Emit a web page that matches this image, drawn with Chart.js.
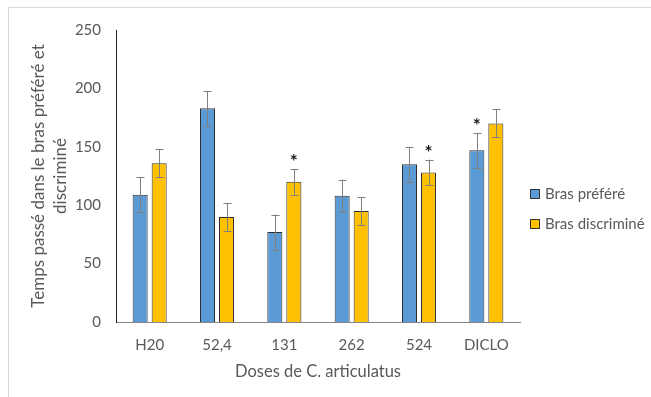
<!DOCTYPE html>
<html>
<head>
<meta charset="utf-8">
<script src="https://cdn.jsdelivr.net/npm/chart.js@4.4.1/dist/chart.umd.min.js"></script>
<style>
  html, body { margin: 0; padding: 0; background: #fff; }
  body { width: 651px; height: 397px; position: relative; overflow: hidden; font-family: Lato, sans-serif; }
  .frame { position: absolute; left: 8px; top: 7px; width: 700px; height: 450px; border-left: 1px solid #d9d9d9; border-top: 1px solid #d9d9d9; }
  #wrap { position: absolute; left: 0; top: 0; width: 651px; height: 397px; }
  .legend { position: absolute; left: 530px; top: 184px; color: #595959; font-size: 15px; }
  .legend div { height: 30px; line-height: 18px; white-space: nowrap; }
  .legend span.sw { display: inline-block; width: 8px; height: 8px; border: 1px solid #333; margin-right: 5px; vertical-align: 0px; }
</style>
</head>
<body>
<div class="frame"></div>
<div id="wrap"><canvas id="chart" width="651" height="397"></canvas></div>
<div class="legend" id="legend"></div>
<script>
const categories = ['H20', '52,4', '131', '262', '524', 'DICLO'];
const seriesNames = ['Bras préféré', 'Bras discriminé'];
const seriesColors = ['#5b9bd5', '#ffc000'];
const prefere = [109, 183, 77, 108, 135, 147];
const discrimine = [136, 90, 120, 95, 128, 170];
const prefereErr = [15, 15, 15, 14, 15, 15];
const discrimineErr = [12, 12, 11, 12, 11, 12];
// significance marks above the error bar
const prefereStar = [false, false, false, false, false, true];
const discrimineStar = [false, false, true, false, true, false];
const yTicks = [0, 50, 100, 150, 200, 250];

const errors = [prefereErr, discrimineErr];
const stars = [prefereStar, discrimineStar];

const errorBars = {
    id: 'errorBars',
    afterDatasetsDraw(chart) {
        const ctx = chart.ctx;
        const y = chart.scales.y;
        chart.data.datasets.forEach((ds, di) => {
            const meta = chart.getDatasetMeta(di);
            meta.data.forEach((bar, i) => {
                const v = ds.data[i], e = errors[di][i];
                const top = y.getPixelForValue(v + e);
                const bot = y.getPixelForValue(v - e);
                const x = Math.round(bar.x) + 0.5;
                ctx.save();
                ctx.strokeStyle = '#7f7f7f';
                ctx.lineWidth = 1;
                ctx.beginPath();
                ctx.moveTo(x, top); ctx.lineTo(x, bot);
                ctx.moveTo(x - 4, Math.round(top) + 0.5); ctx.lineTo(x + 4, Math.round(top) + 0.5);
                ctx.moveTo(x - 4, Math.round(bot) + 0.5); ctx.lineTo(x + 4, Math.round(bot) + 0.5);
                ctx.stroke();
                if (stars[di][i]) {
                    ctx.fillStyle = '#1a1a1a';
                    ctx.font = 'bold 19px Lato';
                    ctx.textAlign = 'center';
                    ctx.textBaseline = 'alphabetic';
                    ctx.fillText('*', bar.x, top - 1);
                }
                ctx.restore();
            });
        });
    }
};

new Chart(document.getElementById('chart'), {
    type: 'bar',
    data: {
        labels: categories,
        datasets: [
            { label: seriesNames[0], data: prefere, backgroundColor: seriesColors[0], borderColor: '#2e2e2e', borderWidth: 1 },
            { label: seriesNames[1], data: discrimine, backgroundColor: seriesColors[1], borderColor: '#2e2e2e', borderWidth: 1 }
        ]
    },
    options: {
        responsive: false,
        animation: false,
        datasets: { bar: { categoryPercentage: 0.565, barPercentage: 0.79 } },
        layout: { padding: { left: 0, top: 30, right: 131, bottom: 0 } },
        plugins: { legend: { display: false }, tooltip: { enabled: false } },
        scales: {
            x: {
                grid: { display: false, drawTicks: false },
                border: { color: '#868686', width: 1 },
                ticks: { color: '#595959', font: { family: 'Lato', size: 15 }, padding: 14 },
                title: { display: true, text: 'Doses de C. articulatus', color: '#595959', font: { family: 'Lato', size: 16.5 }, padding: { top: 0, bottom: 15 } },
                afterFit(s) { s.height = 75; }
            },
            y: {
                min: 0, max: 250,
                grid: { display: false, drawTicks: false },
                border: { color: '#222', width: 1 },
                afterBuildTicks(s) { s.ticks = yTicks.map(v => ({ value: v })); },
                ticks: { color: '#595959', font: { family: 'Lato', size: 15 }, padding: 15 },
                title: { display: true, text: ['Temps passé dans le bras préféré et', 'discriminé'], color: '#595959', font: { family: 'Lato', size: 17, lineHeight: 1.3 }, padding: { top: 27, bottom: 0 } },
                afterFit(s) { s.width = 116; }
            }
        }
    },
    plugins: [errorBars]
});

document.getElementById('legend').innerHTML = seriesNames.map((n, i) =>
    `<div><span class="sw" style="background:${seriesColors[i]}"></span>${n}</div>`).join('');
</script>
</body>
</html>
